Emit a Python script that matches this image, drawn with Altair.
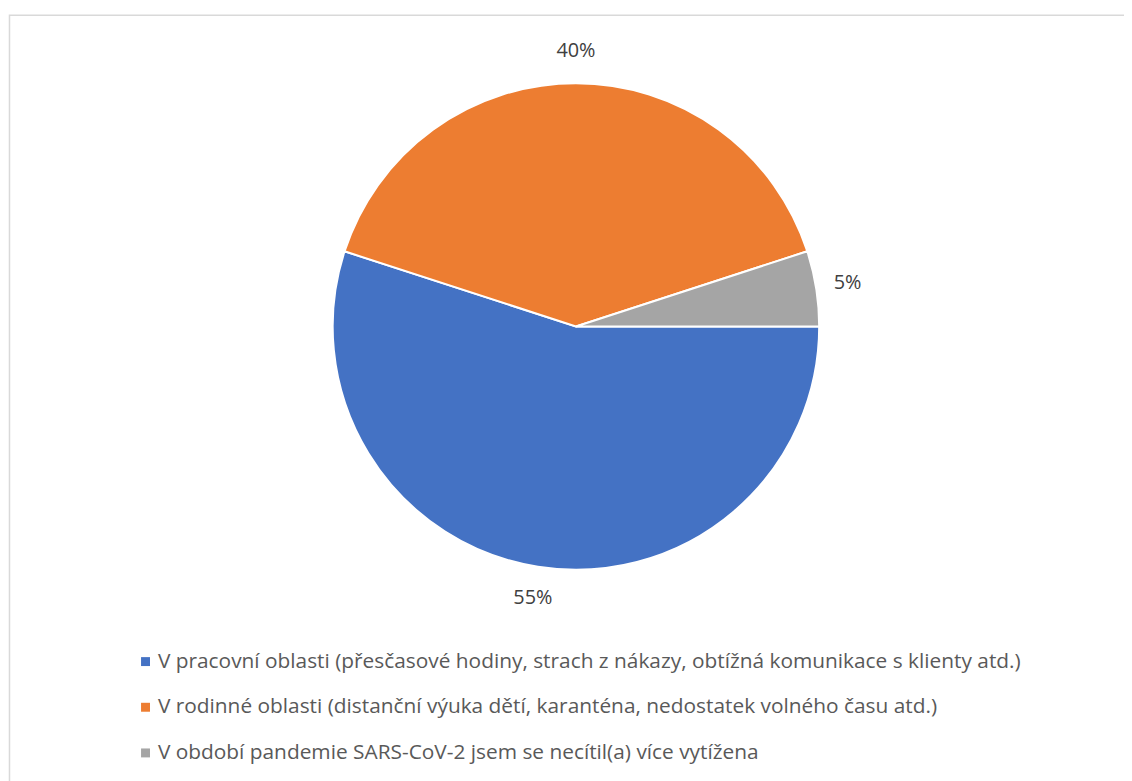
import altair as alt
import pandas as pd
import math

categories = [
    "V pracovní oblasti (přesčasové hodiny, strach z nákazy, obtížná komunikace s klienty atd.)",
    "V rodinné oblasti (distanční výuka dětí, karanténa, nedostatek volného času atd.)",
    "V období pandemie SARS-CoV-2 jsem se necítil(a) více vytížena",
]
values = [55, 40, 5]
labels = ["55%", "40%", "5%"]
colors = ["#4472C4", "#ED7D31", "#A5A5A5"]

df = pd.DataFrame({"cat": categories, "val": values, "lab": labels, "order": [0, 1, 2]})

CX, CY = 572, 318
R = 245
FONT = "Open Sans"

theta_scale = alt.Scale(range=[math.pi / 2, math.pi / 2 + 2 * math.pi])

base = alt.Chart(df).encode(
    theta=alt.Theta("val:Q", stack=True, scale=theta_scale),
    order=alt.Order("order:Q"),
)

pie = base.mark_arc(
    outerRadius=R, stroke="white", strokeWidth=2
).encode(
    x=alt.value(CX),
    y=alt.value(CY),
    color=alt.Color(
        "cat:N",
        scale=alt.Scale(domain=categories, range=colors),
        sort=categories,
        legend=alt.Legend(
            title=None,
            orient="none",
            legendX=128,
            legendY=645,
            padding=0,
            direction="vertical",
            symbolType="square",
            symbolSize=81,
            symbolStrokeWidth=0,
            labelFont=FONT,
            labelFontSize=21,
            labelColor="#595959",
            labelLimit=1000,
            rowPadding=24,
            labelOffset=2,
        ),
    ),
)

text = base.mark_text(
    radius=R + 32, font=FONT, fontSize=20, color="#404040"
).encode(
    x=alt.value(CX),
    y=alt.value(CY),
    text="lab:N",
)

border = alt.Chart(pd.DataFrame({"a": [0]})).mark_rect(
    fill=None, stroke="#D9D9D9", strokeWidth=1.5
).encode(
    x=alt.value(1.5), y=alt.value(4.5), x2=alt.value(1300), y2=alt.value(1000)
)

chart = alt.layer(border, pie, text).properties(
    width=1124, height=773,
    autosize=alt.AutoSizeParams(type="none"),
    padding=0,
).configure_view(stroke=None)

chart.save("out.html", embed_options={"renderer": "svg", "actions": False})
